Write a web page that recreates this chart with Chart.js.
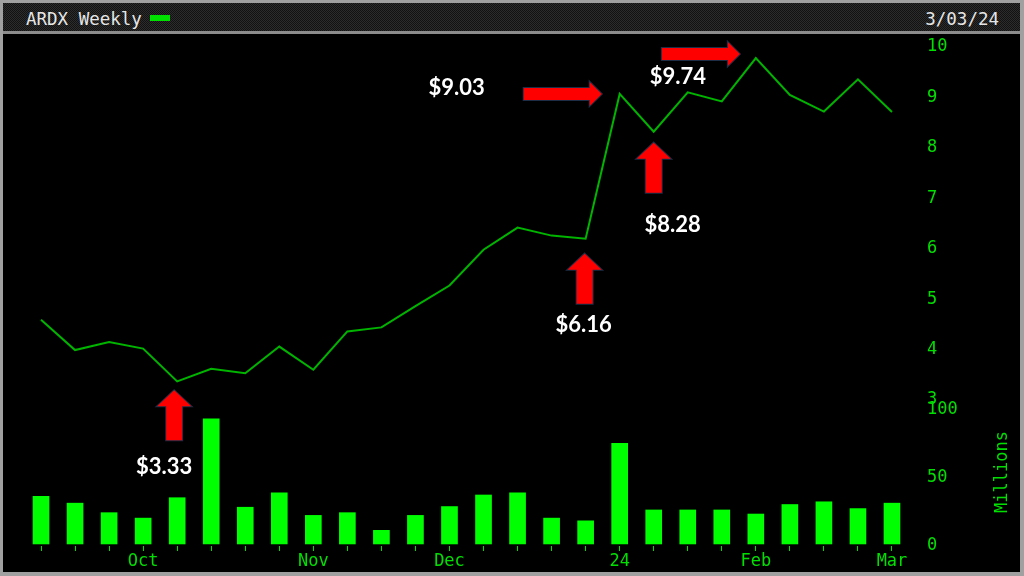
<!DOCTYPE html>
<html lang="en">
<head>
<meta charset="UTF-8">
<title>ARDX Weekly</title>
<script src="https://cdn.jsdelivr.net/npm/chart.js"></script>
<style>
    body {
        margin: 0;
        width: 1024px;
        height: 576px;
        overflow: hidden;
        background: #a0a0a0;
    }
    #frame {
        position: absolute;
        left: 3px;
        top: 3px;
        width: 1017px;
        height: 569px;
        background: #000;
    }
    #header {
        position: absolute;
        left: 0;
        top: 0;
        width: 1017px;
        height: 28px;
        background-color: #1e1e1e;
        background-image: repeating-conic-gradient(#2c2c2c 0 25%, #121212 0 50%);
        background-size: 2px 2px;
        border-bottom: 3px solid #8c8c8c;
        font-family: "DejaVu Sans Mono", monospace;
        font-size: 17.5px;
        line-height: 20px;
        color: #e6e6e6;
    }
    #title { position: absolute; left: 23px; top: 6px; }
    #swatch { position: absolute; left: 147px; top: 12px; width: 20px; height: 6px; background: #00e000; }
    #date { position: absolute; right: 21px; top: 6px; }
    #chartBox { position: absolute; left: 0; top: 31px; }
</style>
</head>
<body>
<div id="frame">
    <div id="header">
        <span id="title">ARDX Weekly</span>
        <span id="swatch"></span>
        <span id="date">3/03/24</span>
    </div>
    <div id="chartBox">
        <canvas id="ardx" width="1017" height="538"></canvas>
    </div>
</div>

<script>
// weekly bars, Sep 10 2023 .. Mar 3 2024 (only month starts are labelled)
const weekLabels = ['', '', '', 'Oct', '', '', '', '', 'Nov', '', '', '', 'Dec',
                    '', '', '', '', '24', '', '', '', 'Feb', '', '', '', 'Mar'];

const closes = [4.55, 3.95, 4.11, 3.98, 3.33, 3.58, 3.49, 4.02, 3.56, 4.32, 4.40, 4.82, 5.23,
                5.94, 6.38, 6.22, 6.16, 9.03, 8.28, 9.06, 8.88, 9.74, 9.01, 8.68, 9.32, 8.67];

// volume in millions
const volumes = [35, 30, 23, 19, 34, 92, 27, 37.5, 21, 23, 10, 21, 27.5,
                 36, 37.5, 19, 17, 74, 25, 25, 25, 22, 29, 31, 26, 30];

const priceTicks = [3, 10];
const volumeTicks = [0, 100];

// red arrows pointing at notable closes
const callouts = [
    { index: 4,  text: '$3.33', dir: 'up',    tip: [-3, 9],   label: [-10, 77] },
    { index: 16, text: '$6.16', dir: 'up',    tip: [-1, 15],  label: [-1, 71] },
    { index: 18, text: '$8.28', dir: 'up',    tip: [0, 11],   label: [19, 82] },
    { index: 17, text: '$9.03', dir: 'right', tip: [-18, 0],  label: [-145, -6] },
    { index: 21, text: '$9.74', dir: 'right', tip: [-16, -4], label: [-62, 23] }
];

const GREEN = '#00e000';
const monoFont = { family: '"DejaVu Sans Mono", monospace', size: 17, lineHeight: 1 };

function arrowPath(ctx, x, y, dir) {
    ctx.beginPath();
    if (dir === 'up') {
        ctx.moveTo(x, y);
        ctx.lineTo(x + 17, y + 16);
        ctx.lineTo(x + 8, y + 16);
        ctx.lineTo(x + 8, y + 50);
        ctx.lineTo(x - 8, y + 50);
        ctx.lineTo(x - 8, y + 16);
        ctx.lineTo(x - 17, y + 16);
    } else {
        ctx.moveTo(x, y);
        ctx.lineTo(x - 12, y - 12);
        ctx.lineTo(x - 12, y - 6);
        ctx.lineTo(x - 78, y - 6);
        ctx.lineTo(x - 78, y + 6);
        ctx.lineTo(x - 12, y + 6);
        ctx.lineTo(x - 12, y + 12);
    }
    ctx.closePath();
}

const calloutPlugin = {
    id: 'callouts',
    afterDatasetsDraw(chart) {
        const ctx = chart.ctx;
        const xs = chart.scales.x;
        const ps = chart.scales.price;
        ctx.save();
        callouts.forEach(c => {
            const tx = xs.getPixelForValue(c.index) + c.tip[0];
            const ty = ps.getPixelForValue(closes[c.index]) + c.tip[1];
            arrowPath(ctx, tx, ty, c.dir);
            ctx.lineJoin = 'miter';
            ctx.strokeStyle = '#1d2d45';
            ctx.lineWidth = 2;
            ctx.stroke();
            ctx.fillStyle = '#ff0000';
            ctx.fill();

            ctx.font = 'bold 22px Lato, "Open Sans", sans-serif';
            ctx.fillStyle = '#ffffff';
            ctx.textAlign = 'center';
            ctx.textBaseline = 'middle';
            ctx.fillText(c.text, tx + c.label[0], ty + c.label[1]);
        });

        // volume axis title, reads bottom to top
        const vs = chart.scales.volume;
        ctx.translate(chart.width - 17, (vs.top + vs.bottom) / 2);
        ctx.rotate(-Math.PI / 2);
        ctx.font = '17px "DejaVu Sans Mono", monospace';
        ctx.fillStyle = GREEN;
        ctx.fillText('Millions', 0, 0);
        ctx.restore();
    }
};

function fixRightAxis(s) {
    s.width = 52;
    s.paddingTop = 0;
    s.paddingBottom = 0;
}

const ctx = document.getElementById('ardx').getContext('2d');
new Chart(ctx, {
    type: 'bar',
    data: {
        labels: weekLabels,
        datasets: [{
            type: 'line',
            label: 'ARDX',
            data: closes,
            yAxisID: 'price',
            borderColor: '#00b400',
            borderWidth: 2,
            pointRadius: 0,
            tension: 0
        }, {
            type: 'bar',
            label: 'Volume',
            data: volumes,
            yAxisID: 'volume',
            backgroundColor: '#00ff00',
            barThickness: 16
        }]
    },
    options: {
        responsive: false,
        animation: false,
        layout: { padding: { left: 21, top: 11, right: 59, bottom: 0 } },
        plugins: {
            legend: { display: false },
            tooltip: { enabled: false }
        },
        scales: {
            x: {
                grid: { display: true, drawOnChartArea: false, offset: false, tickLength: 5, color: GREEN },
                border: { display: false },
                ticks: { color: GREEN, font: monoFont, autoSkip: false, maxRotation: 0, padding: 2 },
                afterFit: s => { s.height = 26; s.paddingLeft = 0; s.paddingRight = 0; }
            },
            price: {
                position: 'right',
                stack: 'right',
                stackWeight: 353,
                min: priceTicks[0],
                max: priceTicks[1],
                grid: { display: false, drawTicks: false },
                border: { display: false },
                ticks: { color: GREEN, font: monoFont, stepSize: 1, padding: 18, labelOffset: 2 },
                afterFit: fixRightAxis
            },
            volume: {
                position: 'right',
                stack: 'right',
                stackWeight: 148,
                min: -1.5,
                max: 107.3,
                grid: { display: false, drawTicks: false },
                border: { display: false },
                ticks: {
                    color: GREEN, font: monoFont, stepSize: 50, padding: 18, labelOffset: 2, includeBounds: false,
                    callback: v => (v >= volumeTicks[0] && v <= volumeTicks[1]) ? v : null
                },
                afterFit: fixRightAxis
            }
        }
    },
    plugins: [calloutPlugin]
});
</script>
</body>
</html>
